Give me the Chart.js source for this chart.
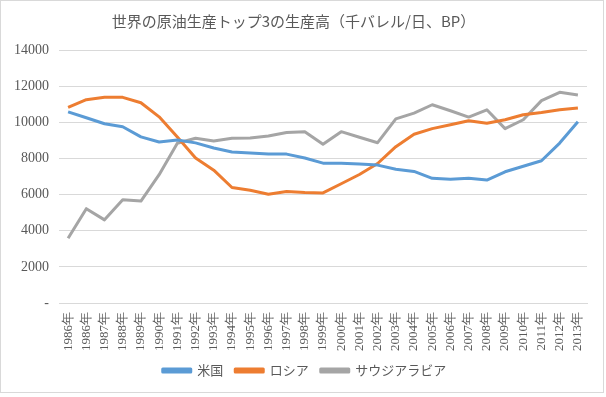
<!DOCTYPE html>
<html>
<head>
<meta charset="utf-8">
<script src="https://cdn.jsdelivr.net/npm/chart.js@4"></script>
<style>
  body { margin: 0; background: #fff; }
  #wrap { width: 606px; height: 397px; position: relative; }
</style>
</head>
<body>
<div id="wrap"><canvas id="c"></canvas></div>
<script>
// data
const years = ["1986年", "1986年", "1987年", "1988年", "1989年", "1990年", "1991年", "1992年", "1993年", "1994年",
  "1995年", "1996年", "1997年", "1998年", "1999年", "2000年", "2001年", "2002年", "2003年", "2004年",
  "2005年", "2006年", "2007年", "2008年", "2009年", "2010年", "2011年", "2012年", "2013年"];

const usa = [10580, 10250, 9920, 9750, 9190, 8910, 9020, 8860, 8580, 8360,
  8300, 8240, 8240, 8020, 7740, 7740, 7690, 7630, 7400, 7280,
  6900, 6850, 6900, 6800, 7260, 7570, 7870, 8850, 10030];

const russia = [10820, 11250, 11380, 11380, 11080, 10300, 9190, 8020, 7350, 6390,
  6240, 6020, 6170, 6110, 6090, 6600, 7110, 7720, 8650, 9340,
  9650, 9860, 10080, 9950, 10140, 10420, 10540, 10690, 10790];

const saudi = [3580, 5220, 4600, 5720, 5640, 7100, 8840, 9120, 8970, 9120,
  9130, 9240, 9430, 9480, 8780, 9480, 9170, 8870, 10190, 10510,
  10970, 10640, 10290, 10690, 9650, 10140, 11200, 11660, 11510];

const yTicks = [0, 2000, 4000, 6000, 8000, 10000, 12000, 14000];

const tickColor = "#595959";
const gridColor = "#d9d9d9";
const serifFont = "'Liberation Serif', 'DejaVu Serif', serif";
const cjkFont = "'Noto Sans CJK JP', sans-serif";

// outer frame of the chart area, and legend nudged right like the original
const framePlugin = {
  id: "frame",
  afterLayout(chart) {
    chart.legend.left += 11;
    chart.legend.right += 11;
  },
  afterDraw(chart) {
    const ctx = chart.ctx;
    ctx.save();
    ctx.strokeStyle = "#d9d9d9";
    ctx.lineWidth = 1;
    ctx.strokeRect(0.5, 0.5, 603, 392);
    ctx.restore();
  }
};

function serie(label, data, color) {
  return {
    label: label,
    data: data,
    borderColor: color,
    backgroundColor: color,
    borderWidth: 3,
    pointRadius: 0,
    tension: 0,
    borderJoinStyle: "round"
  };
}

new Chart(document.getElementById("c"), {
  type: "line",
  data: {
    labels: years,
    datasets: [
      serie("米国", usa, "#5b9bd5"),
      serie("ロシア", russia, "#ed7d31"),
      serie("サウジアラビア", saudi, "#a5a5a5")
    ]
  },
  plugins: [framePlugin],
  options: {
    responsive: true,
    maintainAspectRatio: false,
    animation: false,
    layout: { padding: { left: 0, right: 19, top: 0, bottom: 10 } },
    plugins: {
      tooltip: { enabled: false },
      title: {
        display: true,
        text: "世界の原油生産トップ3の生産高（千バレル/日、BP）",
        color: tickColor,
        font: { family: cjkFont, size: 15, weight: "normal" },
        padding: { top: 12, bottom: 20 }
      },
      legend: {
        position: "bottom",
        labels: {
          color: tickColor,
          boxWidth: 28,
          boxHeight: 3,
          padding: 12,
          font: { family: cjkFont, size: 13 }
        }
      }
    },
    scales: {
      x: {
        offset: true,
        afterFit(scale) { scale.height = 49; },
        grid: { display: false, drawTicks: false },
        border: { display: true, color: gridColor },
        ticks: {
          autoSkip: false,
          maxRotation: 90,
          minRotation: 90,
          padding: 9,
          color: tickColor,
          font: { family: serifFont, size: 13 }
        }
      },
      y: {
        min: 0,
        max: 14000,
        afterFit(scale) { scale.width = 59; },
        afterBuildTicks(scale) { scale.ticks = yTicks.map(v => ({ value: v })); },
        grid: { color: gridColor, drawTicks: false },
        border: { display: false },
        ticks: {
          padding: 10,
          color: tickColor,
          font: { family: serifFont, size: 14 },
          callback: v => (v === 0 ? "-" : String(v))
        }
      }
    }
  }
});
</script>
</body>
</html>
